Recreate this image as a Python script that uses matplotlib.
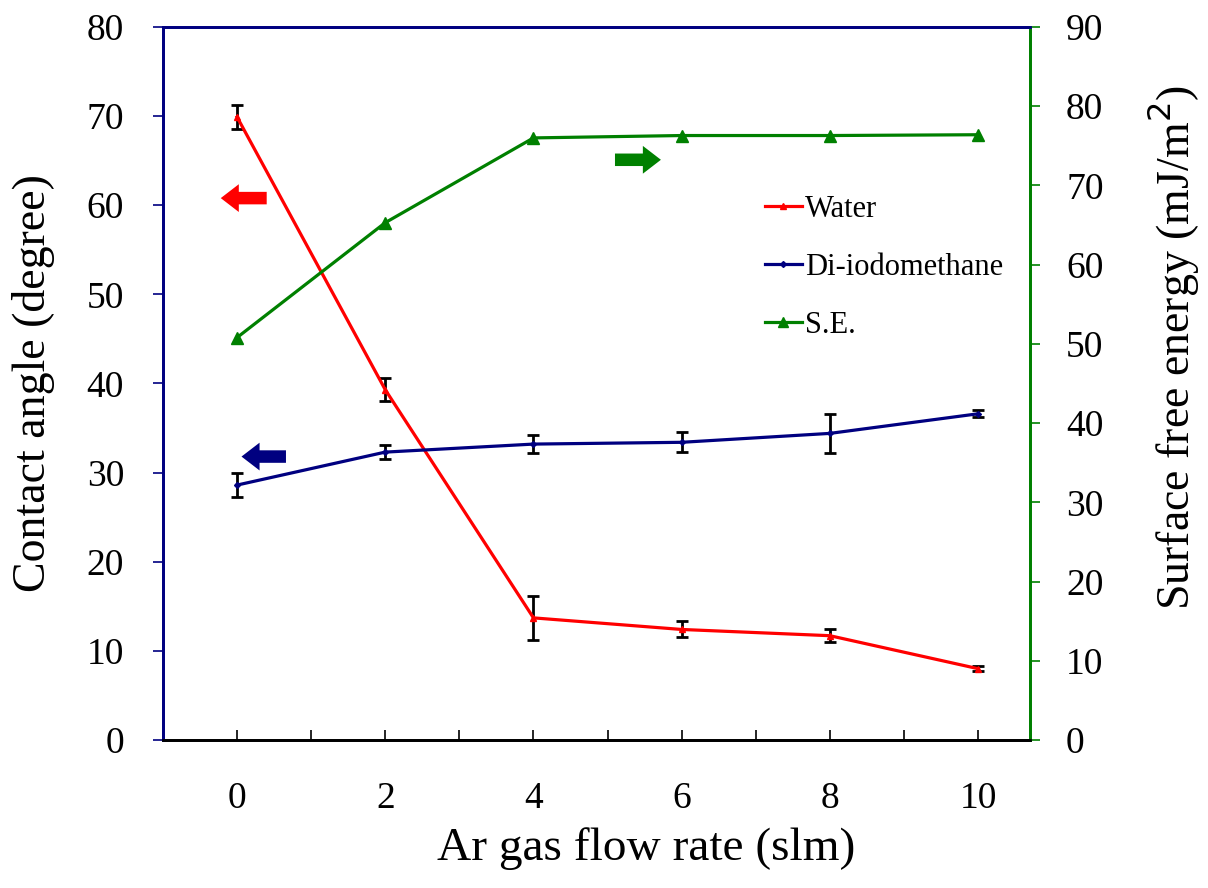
import matplotlib
matplotlib.use("Agg")
import matplotlib.pyplot as plt
from matplotlib.lines import Line2D

plt.rcParams['font.family'] = ['Liberation Serif', 'DejaVu Serif']

flow = [0, 2, 4, 6, 8, 10]
water = [69.9, 39.3, 13.7, 12.4, 11.7, 8.0]
water_err = [1.3, 1.3, 2.5, 0.9, 0.7, 0.3]
diiodo = [28.6, 32.3, 33.2, 33.4, 34.4, 36.6]
diiodo_err = [1.3, 0.8, 1.0, 1.1, 2.2, 0.4]
se = [50.8, 65.3, 76.0, 76.3, 76.3, 76.4]

left_ticks = list(range(0, 81, 10))
right_ticks = list(range(0, 91, 10))

RED = '#FF0000'
NAVY = '#000080'
GREEN = '#008000'

fig = plt.figure(figsize=(12.08, 8.88), dpi=100)
ax = fig.add_axes([0.1349, 0.1667, 0.7177, 0.8029])
ax2 = ax.twinx()

ax.errorbar(flow, water, yerr=water_err, color=RED, lw=2.3, marker='^', ms=5,
            ecolor='black', elinewidth=2, capsize=4, capthick=2, zorder=3)
ax.errorbar(flow, diiodo, yerr=diiodo_err, color=NAVY, lw=2.3, marker='D', ms=3,
            ecolor='black', elinewidth=2, capsize=4, capthick=2, zorder=3)
ax2.plot(flow, se, color=GREEN, lw=2.3, marker='^', ms=8)

ax.set_xlim(-1.0, 10.7)
ax.set_ylim(0, 80)
ax2.set_ylim(0, 90)
ax.set_xticks(flow)
ax.set_xticks([-1, 1, 3, 5, 7, 9], minor=True)
ax.set_yticks(left_ticks)
ax2.set_yticks(right_ticks)

ax.tick_params(axis='x', which='both', direction='in', length=7, width=1.2,
               labelsize=27, pad=30)
ax.tick_params(axis='y', direction='out', length=7, width=1.2, color=NAVY,
               labelsize=27, pad=21)
ax2.tick_params(axis='y', direction='out', length=7, width=1.2, color=GREEN,
                labelsize=27, pad=19)

for a in (ax, ax2):
    a.spines['left'].set_color(NAVY)
    a.spines['top'].set_color(NAVY)
    a.spines['right'].set_color(GREEN)
    a.spines['bottom'].set_color('black')
    for s in a.spines.values():
        s.set_linewidth(2)

ax.set_xlabel('Ar gas flow rate (slm)', fontsize=34)
ax.set_ylabel('Contact angle (degree)', fontsize=33)
ax2.set_ylabel('Surface free energy (mJ/m$^2$)', fontsize=33)
ax.xaxis.set_label_coords(0.557, -0.122)
ax.yaxis.set_label_coords(-0.124, 0.5)
ax2.yaxis.set_label_coords(1.133, 0.55)

# direction arrows
arrow_style = 'simple,head_length=1.3,head_width=2.0,tail_width=0.9'
ax.annotate('', xy=(-0.22, 60.8), xytext=(0.40, 60.8),
            arrowprops=dict(arrowstyle=arrow_style, color=RED, lw=0, shrinkA=0, shrinkB=0))
ax.annotate('', xy=(0.06, 31.8), xytext=(0.66, 31.8),
            arrowprops=dict(arrowstyle=arrow_style, color=NAVY, lw=0, shrinkA=0, shrinkB=0))
ax.annotate('', xy=(5.72, 65.1), xytext=(5.10, 65.1),
            arrowprops=dict(arrowstyle=arrow_style, color=GREEN, lw=0, shrinkA=0, shrinkB=0))

handles = [
    Line2D([], [], color=RED, lw=2.3, marker='^', ms=5),
    Line2D([], [], color=NAVY, lw=2.3, marker='D', ms=3),
    Line2D([], [], color=GREEN, lw=2.3, marker='^', ms=7),
]
ax2.legend(handles, ['Water', 'Di-iodomethane', 'S.E.'], loc='upper left',
           bbox_to_anchor=(765 / 1208, 1 - 195 / 888), bbox_transform=fig.transFigure,
           frameon=False, fontsize=22, handlelength=1.2, handletextpad=0.1,
           labelspacing=0.95, borderaxespad=0, borderpad=0)

fig.savefig('out.png', dpi=100)
